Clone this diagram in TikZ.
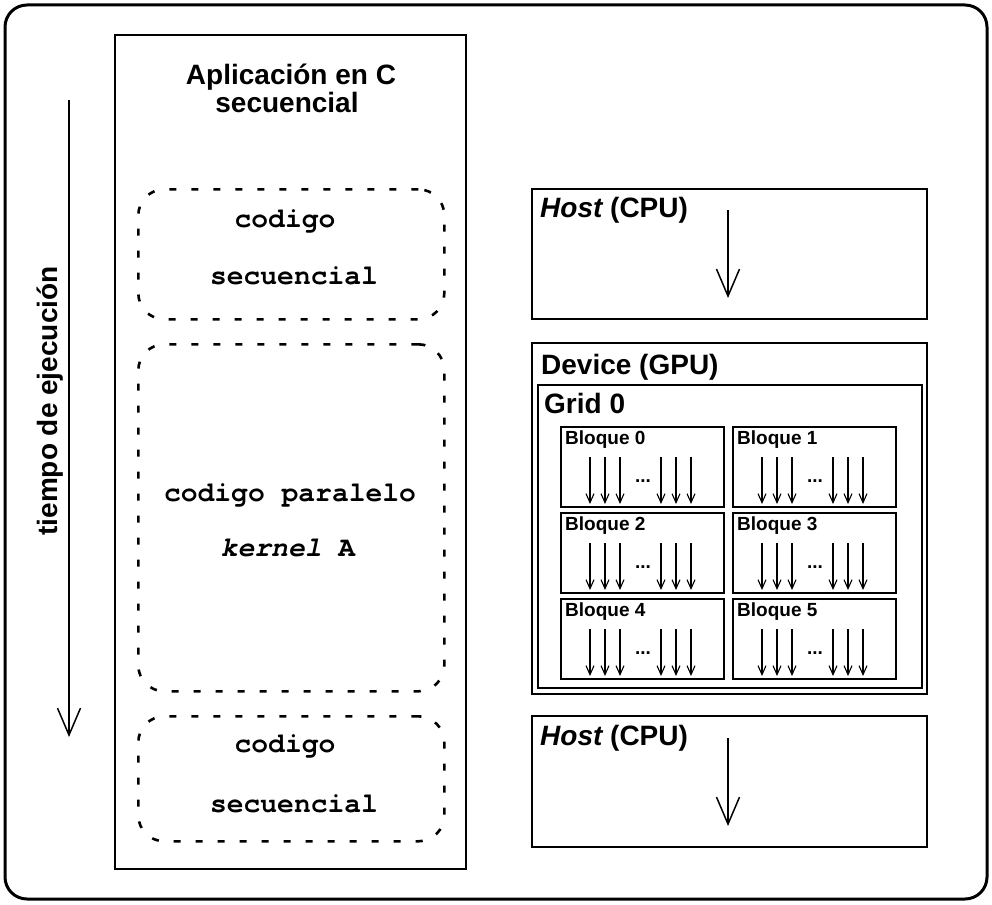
\documentclass[tikz,border=0pt]{standalone}
\usepackage{fontspec}
\setmainfont{Liberation Sans}
\newfontfamily\codefont{TeX Gyre Cursor}
\usetikzlibrary{arrows.meta}
\tikzset{
  box/.style={draw, line width=1.8pt},
  codebox/.style={draw, line width=2.6pt, rounded corners=26pt, dash pattern=on 7pt off 15pt},
  bigarrow/.style={line width=1.5pt, -{Straight Barb[length=27pt,width=23pt,line width=1.5pt]}},
  smallarrow/.style={line width=1.1pt, -{Straight Barb[length=9pt,width=8pt,line width=1.1pt]}},
  lbl/.style={font=\fontsize{28}{30}\selectfont\bfseries, inner sep=0pt},
  blbl/.style={font=\fontsize{19}{21}\selectfont\bfseries, inner sep=0pt},
  code/.style={font=\fontsize{28}{30}\selectfont\codefont\bfseries, inner sep=0pt},
}
\begin{document}
\begin{tikzpicture}[x=1pt,y=-1pt]
\useasboundingbox (0,0) rectangle (992,904);
% outer frame
\draw[line width=3pt, rounded corners=22pt] (5,5) rectangle (987,899);
% time arrow
\coordinate (t0) at (69,100);
\coordinate (t1) at (69,737);
\draw[bigarrow] (t0) -- (t1);
\node[lbl, rotate=90, anchor=base] (tiempo) at (57,401) {tiempo de ejecución};
% left application box
\node[box, minimum width=351pt, minimum height=834pt, anchor=north west, inner sep=0pt] (app) at (114,34) {};
\node[lbl, anchor=base] (title1) at (291,85) {Aplicación en C};
\node[lbl, anchor=base] (title2) at (287,113) {secuencial};
% code boxes
\node[codebox, minimum width=306pt, minimum height=130pt, anchor=north west] (seq1) at (137,188) {};
\node[code, anchor=base] (seq1a) at (285,227) {codigo};
\node[code, anchor=base] (seq1b) at (294,284) {secuencial};
\node[codebox, minimum width=306pt, minimum height=347pt, anchor=north west] (par) at (137,343) {};
\node[code, anchor=base] (para) at (290,501) {codigo paralelo};
\node[code, anchor=base] (parb) at (288,556) {\itshape kernel\upshape{} A};
\node[codebox, minimum width=306pt, minimum height=125pt, anchor=north west] (seq2) at (137,715) {};
\node[code, anchor=base] (seq2a) at (285,752) {codigo};
\node[code, anchor=base] (seq2b) at (294,812) {secuencial};
% host 1
\node[box, minimum width=395pt, minimum height=130pt, anchor=north west, inner sep=0pt] (host1) at (531,188) {};
\node[lbl, anchor=base west] (host1l) at (540,217) {\itshape Host\upshape{} (CPU)};
\coordinate (h1a) at (728,210);
\coordinate (h1b) at (728,298);
\draw[bigarrow] (h1a) -- (h1b);
% device
\node[box, minimum width=395pt, minimum height=351pt, anchor=north west, inner sep=0pt] (dev) at (531,342) {};
\node[lbl, anchor=base west] (devl) at (541,374) {Device (GPU)};
\node[box, minimum width=384pt, minimum height=303pt, anchor=north west, inner sep=0pt] (grid) at (537,384) {};
\node[lbl, anchor=base west] (gridl) at (544,413) {Grid 0};
% blocks
\foreach \i/\bx/\by in {0/560/426, 1/732/426, 2/560/512, 3/732/512, 4/560/598, 5/732/598} {
  \node[box, line width=1.6pt, minimum width=163pt, minimum height=80pt, anchor=north west, inner sep=0pt] (b\i) at (\bx,\by) {};
  \node[blbl, anchor=base west] (b\i l) at (\bx+5,\by+18) {Bloque \i};
  \foreach \dx in {30,45,60,101,116,131} {
    \coordinate (b\i s\dx) at (\bx+\dx,\by+31);
    \coordinate (b\i e\dx) at (\bx+\dx,\by+78);
    \draw[smallarrow] (b\i s\dx) -- (b\i e\dx);
  }
  \node[blbl, anchor=base] (b\i d) at (\bx+83,\by+56) {...};
}
% host 2
\node[box, minimum width=395pt, minimum height=131pt, anchor=north west, inner sep=0pt] (host2) at (531,715) {};
\node[lbl, anchor=base west] (host2l) at (540,745) {\itshape Host\upshape{} (CPU)};
\coordinate (h2a) at (728,738);
\coordinate (h2b) at (728,826);
\draw[bigarrow] (h2a) -- (h2b);
\end{tikzpicture}
\end{document}
